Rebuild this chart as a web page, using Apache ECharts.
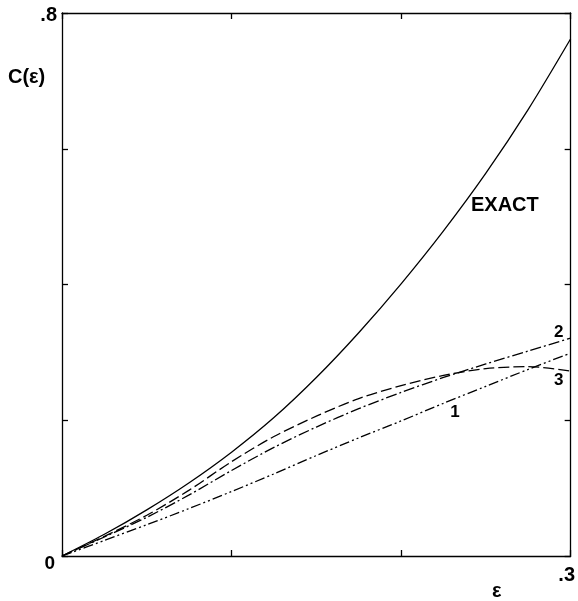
<!DOCTYPE html>
<html>
<head>
<meta charset="utf-8">
<script src="https://cdn.jsdelivr.net/npm/echarts@6/dist/echarts.min.js"></script>
<style>
html,body{margin:0;padding:0;background:#fff;}
#chart{width:578px;height:601px;}
</style>
</head>
<body>
<div id="chart"></div>
<script>
// ---- data ----
const eps   = [0, 0.025, 0.05, 0.075, 0.1, 0.125, 0.15, 0.175, 0.2, 0.225, 0.25, 0.275, 0.3];
const exact = [0, 0.032, 0.068, 0.108, 0.153, 0.204, 0.263, 0.329, 0.401, 0.479, 0.564, 0.658, 0.762];
const c1    = [0, 0.023, 0.046, 0.070, 0.095, 0.121, 0.148, 0.174, 0.199, 0.225, 0.250, 0.275, 0.299];
const c2    = [0, 0.028, 0.057, 0.090, 0.126, 0.160, 0.190, 0.217, 0.241, 0.263, 0.283, 0.302, 0.321];
const c3    = [0, 0.029, 0.060, 0.097, 0.139, 0.176, 0.206, 0.232, 0.251, 0.266, 0.276, 0.279, 0.2725];
const xTickLabels = {0.3: '.3'};
const yTickLabels = {0: '0', 0.8: '.8'};
// label anchors (data space)
const labelAnchors = {EXACT: [0.2612, 0.517], '1': [0.2318, 0.212], '2': [0.293, 0.3295], '3': [0.293, 0.2585]};

const FONT = 'Liberation Sans';
const pairs = arr => eps.map((x, i) => [x, arr[i]]);

function mk(name, arr, dash, fontSize) {
  return {
    name: name, type: 'line', data: pairs(arr), smooth: 0.3, showSymbol: false,
    lineStyle: {color: '#000', width: 1.3, type: dash},
    xAxisIndex: 0, yAxisIndex: 0, silent: true, animation: false,
    markPoint: {
      symbol: 'circle', symbolSize: 1, itemStyle: {color: 'rgba(0,0,0,0)'},
      label: {show: true, position: 'inside', formatter: name, color: '#000',
              fontFamily: FONT, fontWeight: 'bold', fontSize: fontSize},
      data: [{coord: labelAnchors[name]}]
    }
  };
}

const axisLine = () => ({show: true, onZero: false, lineStyle: {color: '#000', width: 1.3}});
const tick = () => ({show: true, inside: true, length: 6, lineStyle: {color: '#000', width: 1.3}});

const chart = echarts.init(document.getElementById('chart'), null, {renderer: 'canvas'});
chart.setOption({
  backgroundColor: '#fff',
  animation: false,
  grid: {left: 62, right: 6, top: 13, bottom: 45},
  xAxis: [
    {type: 'value', min: 0, max: 0.3, interval: 0.1, position: 'bottom',
     axisLine: axisLine(), axisTick: tick(), splitLine: {show: false},
     axisLabel: {show: true, inside: false, showMinLabel: true, showMaxLabel: true, margin: 9,
       formatter: v => xTickLabels[Math.round(v * 10) / 10] || '',
       fontFamily: FONT, fontWeight: 'bold', fontSize: 20, color: '#000', padding: [0, 8, 0, 0]}},
    {type: 'value', min: 0, max: 0.3, interval: 0.1, position: 'top',
     axisLine: axisLine(), axisTick: tick(), splitLine: {show: false}, axisLabel: {show: false}}
  ],
  yAxis: [
    {type: 'value', min: 0, max: 0.8, interval: 0.2, position: 'left',
     axisLine: axisLine(), axisTick: tick(), splitLine: {show: false},
     axisLabel: {show: true, inside: false, showMinLabel: true, showMaxLabel: true, margin: 5,
       formatter: v => {
         const k = Math.round(v * 10) / 10;
         if (k === 0) return '{z|' + yTickLabels[0] + '}';
         if (k === 0.8) return '{t|' + yTickLabels[0.8] + '}';
         return '';
       },
       rich: {
         z: {fontFamily: FONT, fontWeight: 'bold', fontSize: 19, color: '#000', padding: [16, 2, 0, 0]},
         t: {fontFamily: FONT, fontWeight: 'bold', fontSize: 20, color: '#000', padding: [4, 0, 0, 0]}
       }}},
    {type: 'value', min: 0, max: 0.8, interval: 0.2, position: 'right',
     axisLine: axisLine(), axisTick: tick(), splitLine: {show: false}, axisLabel: {show: false}}
  ],
  graphic: [
    {type: 'text', left: 8, top: 67, style: {text: 'C(ε)', fontFamily: FONT, fontWeight: 'bold', fontSize: 20, fill: '#000'}},
    {type: 'text', left: 492, top: 581, style: {text: 'ε', fontFamily: FONT, fontWeight: 'bold', fontSize: 20, fill: '#000'}}
  ],
  series: [
    mk('EXACT', exact, 'solid', 20),
    mk('1', c1, [10, 3, 2, 3, 2, 3], 17),
    mk('2', c2, [11, 3, 2, 3], 17),
    mk('3', c3, [11, 4], 17)
  ]
});
</script>
</body>
</html>
